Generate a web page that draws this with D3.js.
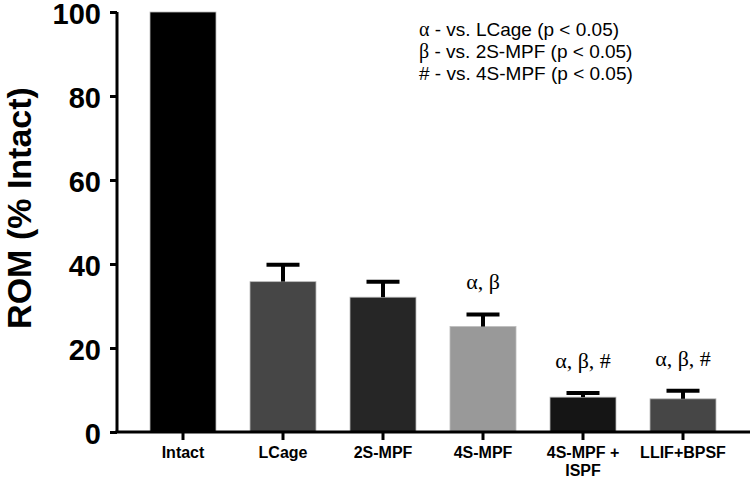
<!DOCTYPE html>
<html><head><meta charset="utf-8">
<script src="https://cdn.jsdelivr.net/npm/d3@7"></script>
<style>body{margin:0;background:#fff}svg{display:block}</style>
</head><body>
<script>
const categories = ["Intact", "LCage", "2S-MPF", "4S-MPF", "4S-MPF +\nISPF", "LLIF+BPSF"];
const means = [100, 35.8, 32.1, 25.1, 8.3, 7.9];
const errors = [0, 4.0, 3.7, 2.9, 1.0, 1.9];
const colors = ["#000000", "#464646", "#262626", "#999999", "#151515", "#464646"];
const annotations = ["", "", "", "α, β", "α, β, #", "α, β, #"];
const yTicks = [0, 20, 40, 60, 80, 100];
const legendSymbols = ["α", "β", "#"];
const legendTexts = [" - vs. LCage (p < 0.05)", " - vs. 2S-MPF (p < 0.05)", " - vs. 4S-MPF (p < 0.05)"];

const W = 750, H = 478;
const svg = d3.select("body").append("svg").attr("width", W).attr("height", H);

const x = d3.scaleBand().domain(categories).range([133, 733]).paddingInner(0.34).paddingOuter(0.17);
const y = d3.scaleLinear().domain([0, 100]).range([432, 12]);

// bars
svg.selectAll("rect.bar").data(categories).join("rect")
  .attr("class", "bar")
  .attr("x", d => x(d))
  .attr("width", x.bandwidth())
  .attr("y", (d, i) => y(means[i]))
  .attr("height", (d, i) => y(0) - y(means[i]))
  .attr("fill", (d, i) => colors[i])
  .attr("stroke", "#bbbbbb").attr("stroke-width", 0.8);

// error bars
const eb = svg.append("g").attr("stroke", "#000").attr("stroke-width", 4);
categories.forEach((c, i) => {
  if (!errors[i]) return;
  const cx = x(c) + x.bandwidth() / 2;
  eb.append("line").attr("x1", cx).attr("x2", cx).attr("y1", y(means[i])).attr("y2", y(means[i] + errors[i]));
  eb.append("line").attr("x1", cx - 16.5).attr("x2", cx + 16.5).attr("y1", y(means[i] + errors[i])).attr("y2", y(means[i] + errors[i]));
});

// annotations
svg.selectAll("text.ann").data(categories).join("text")
  .attr("class", "ann")
  .attr("x", d => x(d) + x.bandwidth() / 2)
  .attr("y", (d, i) => y(means[i] + errors[i]) - 25)
  .attr("text-anchor", "middle")
  .attr("font-family", "Liberation Serif, serif")
  .attr("font-size", 22)
  .text((d, i) => annotations[i]);

// y axis
const yAxis = d3.axisLeft(y).tickValues(yTicks).tickSize(7).tickPadding(9);
const gy = svg.append("g").attr("transform", "translate(117,0)").call(yAxis);
gy.select(".domain").attr("stroke", "#000").attr("stroke-width", 3).attr("d", "M0,12V432");
gy.selectAll(".tick line").attr("stroke", "#000").attr("stroke-width", 3);
gy.selectAll(".tick text").attr("font-family", "Liberation Sans, Arial, sans-serif").attr("font-weight", "bold")
  .attr("font-size", 29).attr("fill", "#000").attr("dy", "0.38em");

// x axis
const xAxis = d3.axisBottom(x).tickSize(8).tickFormat("");
const gx = svg.append("g").attr("transform", "translate(0,432)").call(xAxis);
gx.select(".domain").attr("stroke", "#000").attr("stroke-width", 3).attr("d", "M115.5,0H750");
gx.selectAll(".tick line").attr("stroke", "#000").attr("stroke-width", 3);
gx.selectAll(".tick").each(function(d) {
  const t = d3.select(this).append("text")
    .attr("text-anchor", "middle")
    .attr("font-family", "Liberation Sans, Arial, sans-serif").attr("font-weight", "bold")
    .attr("font-size", 16).attr("fill", "#000");
  d.split("\n").forEach((line, j) => {
    t.append("tspan").attr("x", 0).attr("y", 26 + j * 18).text(line);
  });
});

// y label
svg.append("text")
  .attr("transform", "translate(31,208) rotate(-90)")
  .attr("text-anchor", "middle")
  .attr("font-family", "Liberation Sans, Arial, sans-serif").attr("font-weight", "bold")
  .attr("font-size", 34).attr("fill", "#000")
  .text("ROM (% Intact)");

// legend
const leg = svg.selectAll("text.leg").data(legendTexts).join("text")
  .attr("class", "leg")
  .attr("x", 419).attr("y", (d, i) => 36 + i * 22)
  .attr("font-family", "Liberation Sans, Arial, sans-serif")
  .attr("font-size", 19).attr("fill", "#000");
leg.append("tspan")
  .attr("font-family", (d, i) => i < 2 ? "Liberation Serif, serif" : "Liberation Sans, Arial, sans-serif")
  .attr("font-size", (d, i) => i < 2 ? 20 : 19)
  .text((d, i) => legendSymbols[i]);
leg.append("tspan").text(d => d);
</script>
</body></html>
